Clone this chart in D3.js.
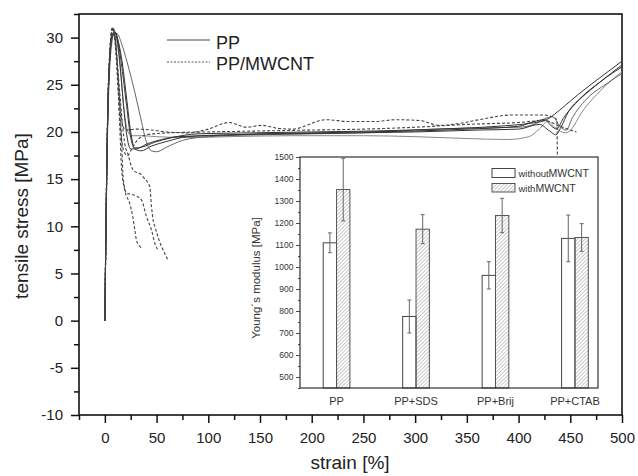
<!DOCTYPE html>
<html>
<head>
<meta charset="utf-8">
<script src="https://cdn.jsdelivr.net/npm/d3@7"></script>
<style>
  body { margin: 0; background: #fff; }
  svg { display: block; font-family: Arial, "Liberation Sans", sans-serif; }
</style>
</head>
<body>
<svg id="chart" width="638" height="476"></svg>
<script>
// stress-strain runs, [strain %, stress MPa]
const ppRun1 = [[0,0],[1,9.5],[2,17.5],[3,23],[4.5,27.6],[6,29.6],[8,30.4],[10,30.5],[12,29.8],[15,26.8],[18,22.8],[21,19.8],[25,18.2],[30,18.2],[40,18.7],[55,19.2],[70,19.5],[100,19.6],[150,19.8],[200,19.9],[250,20.0],[300,20.1],[350,20.3],[400,20.6],[415,21.1],[425,21.3],[432,20.6],[437,20.3],[443,21.4],[455,23],[470,24.5],[485,25.8],[500,26.9]];
const ppRun2 = [[0,0],[1,9],[2,17],[3,22.5],[4.5,27.1],[6,29.4],[8,30.3],[10,30.5],[13,29.6],[17,27.2],[21,23.6],[25,20],[29,18.2],[35,18],[45,18.5],[60,19],[80,19.5],[120,19.7],[180,19.8],[240,19.9],[300,20],[360,20.2],[400,20.3],[420,20.8],[430,20.1],[436,19.7],[441,20.5],[448,22.1],[460,23.6],[480,25.4],[500,27.1]];
const ppRun3 = [[0,0],[1,8.5],[2,16],[3,21.5],[4.5,26.3],[6.5,29.2],[9,30.4],[12,30.4],[16,29.4],[22,27.2],[29,24.2],[35,21.3],[40,19],[45,18],[50,17.9],[60,18.4],[75,19.1],[100,19.5],[150,19.7],[200,19.8],[250,19.9],[300,20.2],[350,20.4],[400,20.5],[415,20.8],[425,21.4],[433,21.6],[440,20.6],[446,20.2],[452,21.5],[465,23.4],[485,25.1],[500,26.2]];
const ppRun4 = [[0,0],[1,9],[2,17],[3,22.8],[4.5,27.4],[6,29.6],[8,30.3],[10,30.2],[13,28.6],[16,25.4],[19,22],[22,20.1],[26,19.6],[35,19.6],[50,19.5],[80,19.4],[120,19.5],[180,19.6],[250,19.6],[300,19.5],[350,19.3],[390,19.2],[410,19.5],[420,20.3],[428,21.1],[436,20.4],[445,19.9],[452,20.4],[460,21.9],[475,23.9],[500,26.4]];
const ppRun5 = [[0,0],[1,9.2],[2,17.2],[3,22.8],[4.5,27.4],[6,29.7],[8,30.5],[10,30.6],[13,29.4],[17,26.4],[21,22.8],[25,19.4],[29,18.3],[36,18.4],[48,18.9],[65,19.4],[90,19.8],[140,19.9],[200,20.0],[260,20.1],[320,20.3],[380,20.6],[410,20.9],[425,21.2],[435,21.9],[445,22.8],[458,24],[478,25.7],[500,27.5]];

const cntRun1 = [[0,0],[1,9],[2,17],[3,23],[4.5,27.5],[6,30],[7.5,30.9],[9,30.6],[11,28.6],[13,25.4],[15,22.4],[17,20.8],[20,20.2],[30,20.3],[45,20.2],[60,20],[80,19.9],[100,20.3],[120,21],[137,20.5],[152,20.7],[166,20.4],[181,20.3],[214,21.3],[236,21.1],[260,21.1],[282,21.3],[305,21.2],[323,20.7],[343,20.9],[362,21.3],[394,21.8],[423,21.8],[433,21.6],[437,21.3],[437.5,17.6]];
const cntRun2 = [[0,0],[1,9],[2,17],[3,23],[4.5,27.5],[6,29.8],[7.5,30.6],[9,30.2],[11,27.8],[13,24],[15,20.6],[18,18.1],[22,17.5],[26,18.2],[32,19.2],[40,19.7],[60,19.9],[100,20],[150,20.1],[200,20.2],[250,20.3],[300,20.5],[350,20.8],[400,21],[425,21.2],[440,20.6],[450,20.2],[456,20]];
const cntRun3 = [[0,0],[1,9.5],[2,17.5],[3,23.5],[4.5,27.9],[6,30.2],[7.5,31],[9,30.7],[11,29],[13,25.6],[15,21.8],[16.5,18.2],[17.7,15.2],[20.9,13.5],[25,13.4],[30.6,13.2],[35.4,12.8],[40.3,11],[45.1,9.6],[48.3,8.2],[51.4,7.5]];
const cntRun4 = [[0,0],[1,9],[2,17],[3,23],[4.5,27.5],[6,30],[7.5,30.8],[9,30.4],[11,28.6],[13,26],[15,23.4],[17,20.8],[19.5,18.6],[22.5,17.6],[25.8,16.3],[29,15.8],[33.8,15.6],[38,15.1],[43.4,14.2],[45.1,12.1],[46.6,10.7],[48.3,10],[51,9],[55,7.8],[58,7.1],[61,6.4]];
const cntRun5 = [[0,0],[1,9.5],[2,17.5],[3,23.5],[4.5,28],[6,30.4],[7.5,31.1],[9,30.7],[11,28.6],[13,24.6],[14.5,20.4],[16.1,16.2],[19.3,13.8],[24.1,12.4],[27,11],[29,9.6],[30.6,8.5],[33,8],[35.4,7.7]];

// inset: Young's modulus
const categories = ["PP", "PP+SDS", "PP+Brij", "PP+CTAB"];
const withoutValues = [1110, 775, 962, 1130];
const withoutErrors = [45, 75, 62, 106];
const withValues = [1352, 1172, 1234, 1134];
const withErrors = [142, 66, 78, 63];

const xTicks = [0, 50, 100, 150, 200, 250, 300, 350, 400, 450, 500];
const yTicks = [-10, -5, 0, 5, 10, 15, 20, 25, 30];
const insetTicks = [500, 600, 700, 800, 900, 1000, 1100, 1200, 1300, 1400, 1500];

const svg = d3.select("#chart");

const x = d3.scaleLinear().domain([-25, 500]).range([79, 622]);
const y = d3.scaleLinear().domain([-10, 32.5]).range([415, 14]);

// minor ticks halfway between the labelled ones
const xMinor = xTicks.map(d => d - 25);
const yMinor = yTicks.map(d => d + 2.5);
const plain = d => String(d);

svg.append("g")
    .attr("transform", "translate(0,415)")
    .call(d3.axisBottom(x).tickValues(xMinor).tickSize(5).tickFormat(""))
    .call(g => g.select(".domain").remove());
svg.append("g")
    .attr("transform", "translate(0,415)")
    .call(d3.axisBottom(x).tickValues(xTicks).tickSize(8).tickPadding(9).tickFormat(plain))
    .call(g => g.select(".domain").remove())
    .call(g => g.selectAll("text").attr("font-size", 15).attr("fill", "#222"));

svg.append("g")
    .attr("transform", "translate(79,0)")
    .call(d3.axisLeft(y).tickValues(yMinor).tickSize(5).tickFormat(""))
    .call(g => g.select(".domain").remove());
svg.append("g")
    .attr("transform", "translate(79,0)")
    .call(d3.axisLeft(y).tickValues(yTicks).tickSize(8).tickPadding(8).tickFormat(plain))
    .call(g => g.select(".domain").remove())
    .call(g => g.selectAll("text").attr("font-size", 15).attr("fill", "#222"));

svg.selectAll(".tick line").attr("stroke", "#111").attr("stroke-width", 1.5);

svg.append("rect")
    .attr("x", 79).attr("y", 14)
    .attr("width", 622 - 79).attr("height", 415 - 14)
    .attr("fill", "none").attr("stroke", "#111").attr("stroke-width", 1.6);

svg.append("text")
    .attr("transform", "translate(28,216) rotate(-90)")
    .attr("text-anchor", "middle")
    .attr("font-size", 19)
    .attr("fill", "#222")
    .text("tensile stress [MPa]");

svg.append("text")
    .attr("x", 350).attr("y", 469)
    .attr("text-anchor", "middle")
    .attr("font-size", 19)
    .attr("fill", "#222")
    .text("strain [%]");

const line = d3.line()
    .x(d => x(d[0]))
    .y(d => y(d[1]))
    .curve(d3.curveMonotoneX);

const curves = svg.append("g").attr("fill", "none");

curves.selectAll("path.pp")
    .data([ppRun4, ppRun3, ppRun2, ppRun5, ppRun1])
    .join("path")
    .attr("class", "pp")
    .attr("d", line)
    .attr("stroke", (d, i) => i === 0 ? "#888" : (i === 1 ? "#666" : "#333"))
    .attr("stroke-width", 1);

curves.selectAll("path.cnt")
    .data([cntRun1, cntRun2, cntRun3, cntRun4, cntRun5])
    .join("path")
    .attr("class", "cnt")
    .attr("d", line)
    .attr("stroke", "#444")
    .attr("stroke-width", 1.1)
    .attr("stroke-dasharray", "3,2");

// legend of the main plot
const legend = svg.append("g");
legend.append("line")
    .attr("x1", 167).attr("x2", 210).attr("y1", 40).attr("y2", 40)
    .attr("stroke", "#444").attr("stroke-width", 1);
legend.append("line")
    .attr("x1", 167).attr("x2", 210).attr("y1", 62).attr("y2", 62)
    .attr("stroke", "#555").attr("stroke-width", 1).attr("stroke-dasharray", "2,1.5");
legend.append("text").attr("x", 216).attr("y", 49).attr("font-size", 18).attr("fill", "#222").text("PP");
legend.append("text").attr("x", 216).attr("y", 70).attr("font-size", 18).attr("fill", "#222").text("PP/MWCNT");

// inset bar chart
const ix = d3.scaleLinear().domain([0.54, 4.29]).range([300, 598]);
const iy = d3.scaleLinear().domain([450, 1500]).range([388, 157]);
const barW = (ix(1) - ix(0)) * 0.168;

const defs = svg.append("defs");
defs.append("pattern")
    .attr("id", "hatch")
    .attr("patternUnits", "userSpaceOnUse")
    .attr("width", 2.6).attr("height", 2.6)
    .attr("patternTransform", "rotate(45)")
    .append("line")
    .attr("x1", 0).attr("x2", 0).attr("y1", 0).attr("y2", 2.6)
    .attr("stroke", "#8a8a8a").attr("stroke-width", 0.9);

const inset = svg.append("g");

inset.append("rect")
    .attr("x", 300).attr("y", 157)
    .attr("width", 298).attr("height", 231)
    .attr("fill", "#fff");

inset.append("g")
    .attr("transform", "translate(300,0)")
    .call(d3.axisLeft(iy).tickValues(insetTicks.map(d => d - 50)).tickSize(2).tickFormat(""))
    .call(g => g.select(".domain").remove());
inset.append("g")
    .attr("transform", "translate(300,0)")
    .call(d3.axisLeft(iy).tickValues(insetTicks).tickSize(4).tickPadding(2.5).tickFormat(plain))
    .call(g => g.select(".domain").remove())
    .call(g => g.selectAll("text").attr("font-size", 8.5).attr("fill", "#333"));
inset.selectAll(".tick line").attr("stroke", "#333").attr("stroke-width", 0.9);

inset.selectAll("rect.without")
    .data(withoutValues)
    .join("rect")
    .attr("class", "without")
    .attr("x", (d, i) => ix(i + 1) - barW)
    .attr("y", d => iy(d))
    .attr("width", barW)
    .attr("height", d => iy(450) - iy(d))
    .attr("fill", "#fff")
    .attr("stroke", "#444")
    .attr("stroke-width", 1);

inset.selectAll("rect.with")
    .data(withValues)
    .join("rect")
    .attr("class", "with")
    .attr("x", (d, i) => ix(i + 1))
    .attr("y", d => iy(d))
    .attr("width", barW)
    .attr("height", d => iy(450) - iy(d))
    .attr("fill", "url(#hatch)")
    .attr("stroke", "#555")
    .attr("stroke-width", 1);

const errs = withoutValues.map((v, i) => ({cx: i + 1 - 0.084, v: v, e: withoutErrors[i]}))
    .concat(withValues.map((v, i) => ({cx: i + 1 + 0.084, v: v, e: withErrors[i]})));

const err = inset.append("g").attr("stroke", "#666").attr("stroke-width", 1);
err.selectAll("line.bar")
    .data(errs)
    .join("line")
    .attr("x1", d => ix(d.cx)).attr("x2", d => ix(d.cx))
    .attr("y1", d => iy(d.v + d.e)).attr("y2", d => iy(d.v - d.e));
err.selectAll("line.top")
    .data(errs)
    .join("line")
    .attr("x1", d => ix(d.cx) - 2).attr("x2", d => ix(d.cx) + 2)
    .attr("y1", d => iy(d.v + d.e)).attr("y2", d => iy(d.v + d.e));
err.selectAll("line.bot")
    .data(errs)
    .join("line")
    .attr("x1", d => ix(d.cx) - 2).attr("x2", d => ix(d.cx) + 2)
    .attr("y1", d => iy(d.v - d.e)).attr("y2", d => iy(d.v - d.e));

inset.selectAll("text.cat")
    .data(categories)
    .join("text")
    .attr("class", "cat")
    .attr("x", (d, i) => ix(i + 1))
    .attr("y", 405)
    .attr("text-anchor", "middle")
    .attr("font-size", 11)
    .attr("fill", "#333")
    .text(d => d);

inset.append("rect")
    .attr("x", 300).attr("y", 157)
    .attr("width", 298).attr("height", 231)
    .attr("fill", "none").attr("stroke", "#333").attr("stroke-width", 1.2);

inset.append("text")
    .attr("transform", "translate(260,278) rotate(-90)")
    .attr("text-anchor", "middle")
    .attr("font-size", 11.5)
    .attr("fill", "#333")
    .text("Young\u00b4s modulus [MPa]");

// inset legend
inset.append("rect")
    .attr("x", 492).attr("y", 168.5).attr("width", 23).attr("height", 9)
    .attr("fill", "#fff").attr("stroke", "#444").attr("stroke-width", 1);
inset.append("rect")
    .attr("x", 492).attr("y", 183.5).attr("width", 23).attr("height", 8.5)
    .attr("fill", "url(#hatch)").attr("stroke", "#555").attr("stroke-width", 1);
const l1 = inset.append("text").attr("x", 518.5).attr("y", 177).attr("font-size", 10.5).attr("fill", "#333");
l1.append("tspan").attr("font-size", 9.5).text("without");
l1.append("tspan").text("MWCNT");
const l2 = inset.append("text").attr("x", 518.5).attr("y", 191.5).attr("font-size", 10.5).attr("fill", "#333");
l2.append("tspan").attr("font-size", 9.5).text("with");
l2.append("tspan").text("MWCNT");
</script>
</body>
</html>
